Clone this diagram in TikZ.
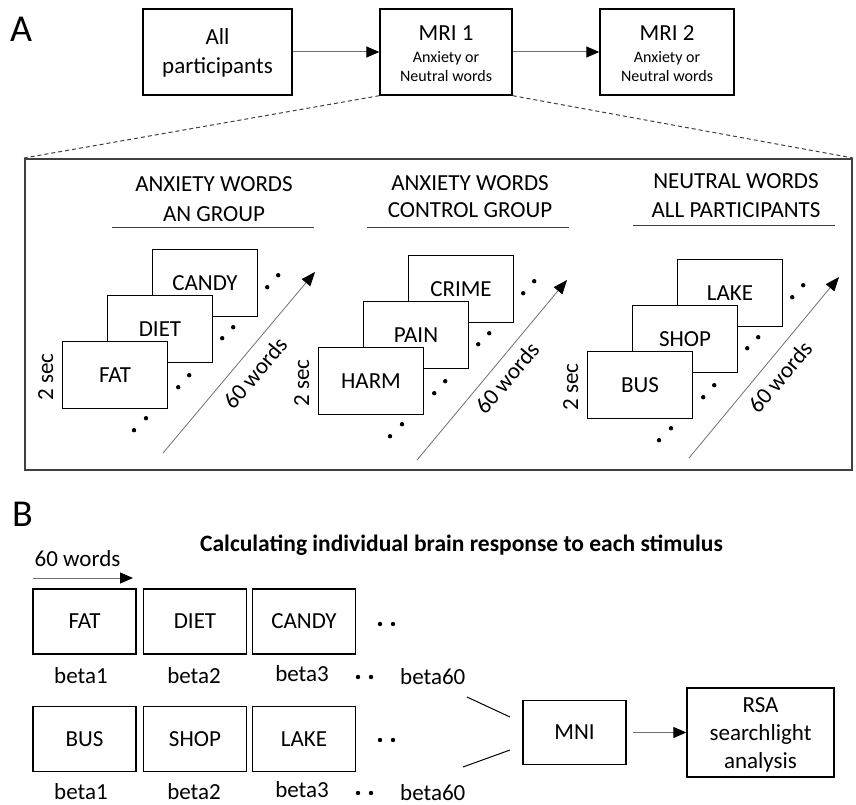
\documentclass[tikz,border=0pt]{standalone}
\usepackage{fontspec}
\setmainfont{Carlito}
\usetikzlibrary{arrows.meta,calc}
\definecolor{lgray}{HTML}{707070}
\definecolor{dgray}{HTML}{404040}
\tikzset{
  tbox/.style={draw=black,line width=1.4pt,fill=white,inner sep=0pt},
  wbox/.style={tbox,minimum width=105pt,minimum height=67pt,font=\fontsize{23}{27}\selectfont},
  bbox/.style={tbox,minimum width=103pt,minimum height=65pt,font=\fontsize{23}{27}\selectfont},
  txt/.style={inner sep=0pt,font=\fontsize{23}{27}\selectfont},
  small/.style={inner sep=0pt,font=\fontsize{16}{20}\selectfont},
  big/.style={inner sep=0pt,font=\fontsize{38}{40}\selectfont},
  garrow/.style={draw=lgray,line width=1pt,-{Triangle[length=13pt,width=11pt,black]}},
  darrow/.style={draw=lgray,line width=0.8pt,-{Triangle[length=14pt,width=11pt,black]}},
  uline/.style={draw=dgray,line width=1pt},
  dline/.style={draw=dgray,line width=1pt,dash pattern=on 4pt off 3pt},
  mline/.style={draw=black,line width=1pt}
}
\begin{document}
\begin{tikzpicture}[x=1pt,y=-1pt]
\useasboundingbox (0,0) rectangle (856,805);

% ---------------- Panel A ----------------
\node[big,anchor=base west] (labA) at (10,42) {A};

\node[tbox,minimum width=149pt,minimum height=86pt] (allp) at (217.5,52) {};
\node[txt,anchor=base] (allp1) at (217.5,45) {All};
\node[txt,anchor=base] (allp2) at (217.5,74) {participants};

\node[tbox,minimum width=132pt,minimum height=86pt] (mri1) at (446,52) {};
\node[txt,anchor=base] (mri1a) at (446,41) {MRI 1};
\node[small,anchor=base] (mri1b) at (446,63) {Anxiety or};
\node[small,anchor=base] (mri1c) at (446,82) {Neutral words};

\node[tbox,minimum width=134pt,minimum height=86pt] (mri2) at (667,52) {};
\node[txt,anchor=base] (mri2a) at (667,41) {MRI 2};
\node[small,anchor=base] (mri2b) at (667,63) {Anxiety or};
\node[small,anchor=base] (mri2c) at (667,82) {Neutral words};

\draw[garrow] (allp.east) -- (mri1.west);
\draw[garrow] (mri1.east) -- (mri2.west);

\node[draw=dgray,line width=2pt,minimum width=827pt,minimum height=311pt,inner sep=0pt] (frame) at (438.5,314.5) {};
\draw[dline] (mri1.south west) -- (frame.north west);
\draw[dline] (mri1.south east) -- (frame.north east);

% headers
\node[txt,anchor=base] (h1a) at (214,192) {ANXIETY WORDS};
\node[txt,anchor=base] (h1b) at (214,221) {AN GROUP};
\draw[uline] (112,227) -- (314,227);
\node[txt,anchor=base] (h2a) at (470,190) {ANXIETY WORDS};
\node[txt,anchor=base] (h2b) at (470,218) {CONTROL GROUP};
\draw[uline] (367,227) -- (569,227);
\node[txt,anchor=base] (h3a) at (736,189) {NEUTRAL WORDS};
\node[txt,anchor=base] (h3b) at (736,217) {ALL PARTICIPANTS};
\draw[uline] (633,225) -- (835,225);

% group 1
\node[wbox] (candy) at (205,283) {CANDY};
\node[wbox] (diet) at (160,329) {DIET};
\node[wbox] (fat) at (115,375) {FAT};
\foreach \n/\a/\b/\c/\d in {fat/10/-22/21/-34, diet/9/-25/20/-36, candy/9/-30/20/-42}{
  \fill ($(\n.south east)+(\a,\b)$) circle (2.2pt);
  \fill ($(\n.south east)+(\c,\d)$) circle (2.2pt);
}
\fill ($(fat.south)+(19,21)$) circle (2.2pt);
\fill ($(fat.south)+(31,9)$) circle (2.2pt);
\node[txt,rotate=90] (sec1) at ($(fat.west)+(-16,2)$) {2 sec};
\coordinate (w1s) at (163,453);
\coordinate (w1e) at (315,272);
\draw[darrow] (w1s) -- (w1e);
\node[txt,rotate=50] (w1l) at (255,373) {60 words};

% group 2
\node[wbox] (crime) at (461,289) {CRIME};
\node[wbox] (pain) at (416,335) {PAIN};
\node[wbox] (harm) at (371,381) {HARM};
\foreach \n/\a/\b/\c/\d in {harm/10/-22/21/-34, pain/9/-25/20/-36, crime/9/-30/20/-42}{
  \fill ($(\n.south east)+(\a,\b)$) circle (2.2pt);
  \fill ($(\n.south east)+(\c,\d)$) circle (2.2pt);
}
\fill ($(harm.south)+(19,21)$) circle (2.2pt);
\fill ($(harm.south)+(31,9)$) circle (2.2pt);
\node[txt,rotate=90] (sec2) at ($(harm.west)+(-16,2)$) {2 sec};
\coordinate (w2s) at (417,460);
\coordinate (w2e) at (567,280);
\draw[darrow] (w2s) -- (w2e);
\node[txt,rotate=50] (w2l) at (507,378) {60 words};

% group 3
\node[wbox] (lake) at (730,293) {LAKE};
\node[wbox] (shop) at (685,339) {SHOP};
\node[wbox] (bus) at (640,385) {BUS};
\foreach \n/\a/\b/\c/\d in {bus/10/-22/21/-34, shop/9/-25/20/-36, lake/9/-30/20/-42}{
  \fill ($(\n.south east)+(\a,\b)$) circle (2.2pt);
  \fill ($(\n.south east)+(\c,\d)$) circle (2.2pt);
}
\fill ($(bus.south)+(19,21)$) circle (2.2pt);
\fill ($(bus.south)+(31,9)$) circle (2.2pt);
\node[txt,rotate=90] (sec3) at ($(bus.west)+(-16,2)$) {2 sec};
\coordinate (w3s) at (689,458);
\coordinate (w3e) at (839,277);
\draw[darrow] (w3s) -- (w3e);
\node[txt,rotate=50] (w3l) at (780,377) {60 words};

% ---------------- Panel B ----------------
\node[big,anchor=base west] (labB) at (12,526) {B};
\node[txt,anchor=base west,font=\fontsize{23.5}{27}\selectfont\bfseries] (title) at (200,551) {Calculating individual brain response to each stimulus};
\node[txt,anchor=base] (bw) at (77.5,566) {60 words};
\coordinate (bwa) at (33,578);
\coordinate (bwb) at (133,578);
\draw[garrow] (bwa) -- (bwb);

\node[bbox] (bfat) at (84.5,621.5) {FAT};
\node[bbox] (bdiet) at (195,621.5) {DIET};
\node[bbox] (bcandy) at (304,621.5) {CANDY};
\fill (380,624) circle (2.2pt);
\fill (393,624) circle (2.2pt);
\node[txt,anchor=base] (b11) at (81,683) {beta1};
\node[txt,anchor=base] (b12) at (194,683) {beta2};
\node[txt,anchor=base] (b13) at (302,681) {beta3};
\fill (358,677) circle (2.2pt);
\fill (371,677) circle (2.2pt);
\node[txt,anchor=base west] (b160) at (400,684) {beta60};

\node[bbox] (bbus) at (84.5,739) {BUS};
\node[bbox] (bshop) at (195,739) {SHOP};
\node[bbox] (blake) at (304,739) {LAKE};
\fill (380,740) circle (2.2pt);
\fill (393,740) circle (2.2pt);
\node[txt,anchor=base] (b21) at (81,799) {beta1};
\node[txt,anchor=base] (b22) at (194,799) {beta2};
\node[txt,anchor=base] (b23) at (302,797) {beta3};
\fill (358,793) circle (2.2pt);
\fill (371,793) circle (2.2pt);
\node[txt,anchor=base west] (b260) at (400,800) {beta60};

\node[tbox,minimum width=103pt,minimum height=64pt,font=\fontsize{23}{27}\selectfont] (mni) at (574.5,732.5) {MNI};
\node[tbox,minimum width=147pt,minimum height=89pt] (rsa) at (760.5,732.5) {};
\node[txt,anchor=base] (rsa1) at (760.5,712) {RSA};
\node[txt,anchor=base] (rsa2) at (760.5,740) {searchlight};
\node[txt,anchor=base] (rsa3) at (760.5,768) {analysis};

\coordinate (l1a) at (467,697);
\coordinate (l1b) at (510,717);
\coordinate (l2a) at (463,767);
\coordinate (l2b) at (510,750);
\draw[mline] (l1a) -- (l1b);
\draw[mline] (l2a) -- (l2b);
\draw[garrow,shorten <=6pt] (mni.east) -- (rsa.west);
\end{tikzpicture}
\end{document}
